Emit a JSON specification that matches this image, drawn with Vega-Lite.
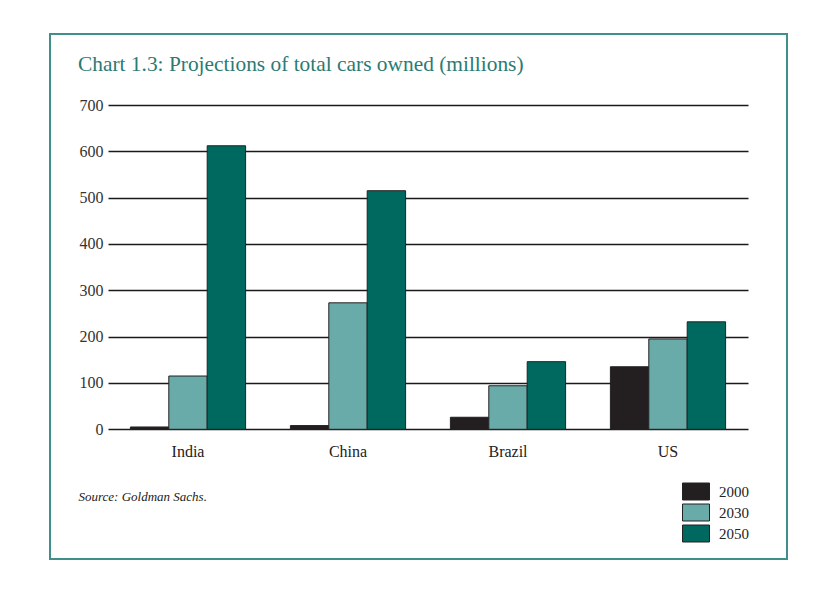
{
  "$schema": "https://vega.github.io/schema/vega-lite/v6.json",
  "width": 737,
  "height": 525,
  "autosize": {"type": "none"},
  "padding": {"left": 50, "top": 34, "right": 30, "bottom": 31},
  "background": "white",
  "title": {
    "text": "Chart 1.3: Projections of total cars owned (millions)",
    "anchor": "start",
    "frame": "group",
    "orient": "top",
    "offset": 0,
    "baseline": "alphabetic",
    "dx": 28,
    "dy": 58,
    "font": "Liberation Serif",
    "fontSize": 21.4,
    "fontWeight": "normal",
    "color": "#2b7a75"
  },
  "data": {
    "values": [
      {"country": "India", "year": "2000", "cars": 5},
      {"country": "India", "year": "2030", "cars": 115},
      {"country": "India", "year": "2050", "cars": 612},
      {"country": "China", "year": "2000", "cars": 8},
      {"country": "China", "year": "2030", "cars": 273},
      {"country": "China", "year": "2050", "cars": 515},
      {"country": "Brazil", "year": "2000", "cars": 26},
      {"country": "Brazil", "year": "2030", "cars": 94},
      {"country": "Brazil", "year": "2050", "cars": 146},
      {"country": "US", "year": "2000", "cars": 135},
      {"country": "US", "year": "2030", "cars": 195},
      {"country": "US", "year": "2050", "cars": 232}
    ]
  },
  "mark": {"type": "bar", "stroke": "#222", "strokeWidth": 1},
  "encoding": {
    "x": {
      "field": "country",
      "type": "nominal",
      "sort": ["India", "China", "Brazil", "US"],
      "scale": {"range": [58, 698], "paddingInner": 0.28, "paddingOuter": 0.14},
      "axis": {
        "orient": "bottom",
        "offset": -129.7,
        "domain": false,
        "ticks": false,
        "grid": false,
        "labelAngle": 0,
        "labelFont": "Liberation Serif",
        "labelFontSize": 16,
        "labelColor": "#222",
        "labelPadding": 14,
        "title": "Source: Goldman Sachs.",
        "titleFont": "Liberation Serif",
        "titleFontStyle": "italic",
        "titleFontWeight": "normal",
        "titleFontSize": 13,
        "titleColor": "#222",
        "titleAnchor": "start",
        "titleAlign": "left",
        "titleBaseline": "alphabetic",
        "titleX": 28,
        "titleY": 70.7
      }
    },
    "xOffset": {
      "field": "year",
      "type": "nominal",
      "sort": ["2000", "2030", "2050"],
      "scale": {"paddingInner": 0, "paddingOuter": 0}
    },
    "y": {
      "field": "cars",
      "type": "quantitative",
      "scale": {"domain": [0, 700], "range": [395.3, 71], "nice": false},
      "axis": {
        "orient": "left",
        "offset": -58,
        "values": [0, 100, 200, 300, 400, 500, 600, 700],
        "title": null,
        "domain": false,
        "ticks": false,
        "grid": true,
        "gridColor": "#1a1a1a",
        "gridWidth": 1.5,
        "labelFont": "Liberation Serif",
        "labelFontSize": 16,
        "labelColor": "#333",
        "labelPadding": 5
      }
    },
    "color": {
      "field": "year",
      "type": "nominal",
      "scale": {"domain": ["2000", "2030", "2050"], "range": ["#231f20", "#68aba8", "#00695f"]},
      "legend": {
        "orient": "none",
        "legendX": 635.5,
        "legendY": 447,
        "title": null,
        "symbolType": "M-1.35,-0.85L1.35,-0.85L1.35,0.85L-1.35,0.85Z",
        "symbolSize": 400,
        "symbolStrokeColor": "#222",
        "symbolStrokeWidth": 1,
        "symbolOpacity": 1,
        "labelFont": "Liberation Serif",
        "labelFontSize": 15,
        "labelColor": "#222",
        "labelOffset": 12.5,
        "rowPadding": 0
      }
    }
  },
  "config": {
    "view": {"fill": "white", "stroke": "#3f8f8a", "strokeWidth": 2}
  }
}
